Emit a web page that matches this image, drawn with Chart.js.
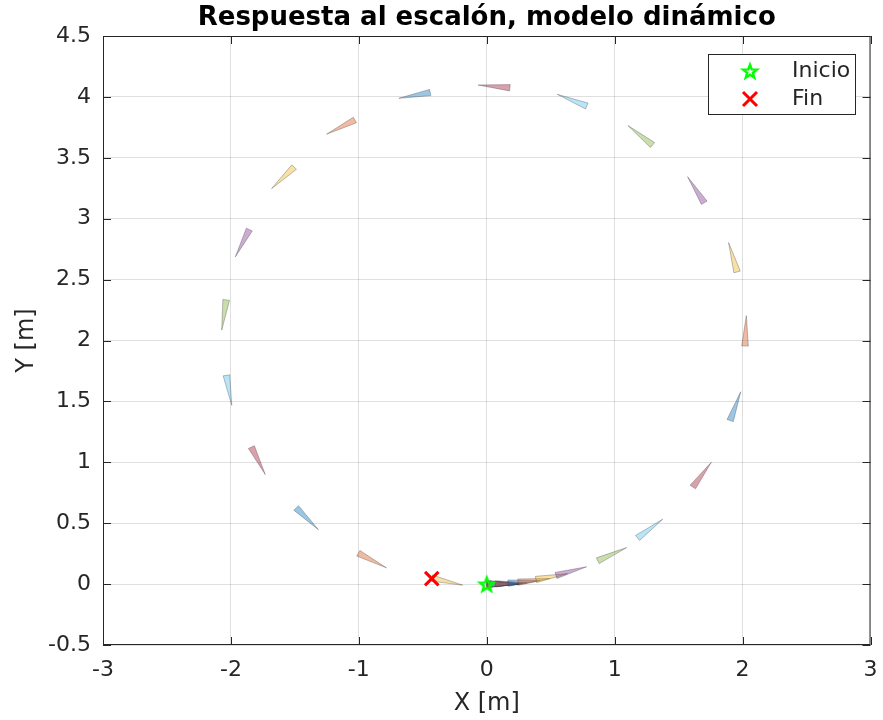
<!DOCTYPE html>
<html>
<head>
<meta charset="utf-8">
<script src="https://cdn.jsdelivr.net/npm/chart.js@4.4.1/dist/chart.umd.min.js"></script>
<style>
  html, body { margin: 0; padding: 0; background: #fff; }
</style>
</head>
<body>
<canvas id="poseChart" width="883" height="720"></canvas>
<script>
// robot poses (base centre of each triangle), heading in degrees
var poseX = [0, 0, 0.001, 0.003, 0.008, 0.027, 0.066, 0.167, 0.245, 0.385, 0.541,
             0.868, 1.179, 1.611, 1.903, 2.019, 1.957, 1.700, 1.296, 0.782, 0.181,
             -0.442, -1.031, -1.506, -1.856, -2.037, -2.035, -1.840, -1.490, -1.004, -0.432];
var poseY = [0, 0, 0, 0, 0, 0.001, 0.002, 0.008, 0.016, 0.038, 0.071,
             0.192, 0.379, 0.797, 1.343, 1.955, 2.563, 3.131, 3.605, 3.925, 4.075,
             4.036, 3.810, 3.424, 2.911, 2.333, 1.714, 1.125, 0.625, 0.253, 0.050];
var poseTheta = [0, 0, 0, 0.1, 0.3, 0.8, 1.9, 4.7, 7, 11, 16.5,
                 25.5, 38, 54.6, 70.7, 87.6, 105.4, 121.3, 140.3, 157.4, 174.8,
                 191, 207.7, 225.2, 244, 262, 279.6, 295.7, 314.3, 331.5, 346.5];
var startPoint = [0, 0];
var endPoint = [-0.43, 0.045];
var legendLabels = ['Inicio', 'Fin'];

var matlabColors = ['0,114,189', '217,83,25', '237,177,32', '126,47,142', '119,172,48', '77,190,238', '162,20,47'];
var bodyLength = 0.25, halfBase = 0.026;
var txt = '#262626';

function triangle(i) {
  var t = poseTheta[i] * Math.PI / 180;
  var c = Math.cos(t), s = Math.sin(t);
  var x = poseX[i], y = poseY[i];
  return [
    {x: x - s * halfBase, y: y + c * halfBase},
    {x: x + c * bodyLength, y: y + s * bodyLength},
    {x: x + s * halfBase, y: y - c * halfBase},
    {x: x - s * halfBase, y: y + c * halfBase}
  ];
}

// pentagram marker like matlab 'p'
var starImg = document.createElement('canvas');
starImg.width = 22; starImg.height = 22;
var sctx = starImg.getContext('2d');
sctx.beginPath();
for (var k = 0; k < 10; k++) {
  var r = k % 2 === 0 ? 7.2 : 3;
  var a = -Math.PI / 2 + k * Math.PI / 5;
  sctx.lineTo(11 + r * Math.cos(a), 11.8 + r * Math.sin(a));
}
sctx.closePath();
sctx.lineWidth = 2.4;
sctx.strokeStyle = '#00ff00';
sctx.stroke();

var datasets = [];
for (var i = 0; i < poseX.length; i++) {
  datasets.push({
    type: 'line',
    data: triangle(i),
    borderColor: 'rgba(50,50,50,0.45)',
    borderWidth: 0.7,
    backgroundColor: 'rgba(' + matlabColors[i % 7] + ',0.4)',
    fill: 'shape',
    pointRadius: 0,
    tension: 0,
    order: 100 - i
  });
}
datasets.push({
  type: 'scatter',
  label: legendLabels[0],
  data: [{x: startPoint[0], y: startPoint[1]}],
  pointStyle: starImg,
  order: -2
});
datasets.push({
  type: 'scatter',
  label: legendLabels[1],
  data: [{x: endPoint[0], y: endPoint[1]}],
  pointStyle: 'crossRot',
  pointRadius: 9.5,
  borderColor: '#ff0000',
  borderWidth: 3,
  order: -1
});

var framePlugin = {
  id: 'frame',
  afterDraw: function (chart) {
    var ctx = chart.ctx, a = chart.chartArea;
    var sx = chart.scales.x, sy = chart.scales.y;
    ctx.save();
    ctx.strokeStyle = txt;
    ctx.lineWidth = 1;
    ctx.strokeRect(a.left + 0.5, a.top + 0.5, a.right - a.left - 1, a.bottom - a.top - 1);
    ctx.beginPath();
    sx.ticks.forEach(function (t) {
      var px = Math.round(sx.getPixelForValue(t.value)) + 0.5;
      ctx.moveTo(px, a.bottom); ctx.lineTo(px, a.bottom - 8);
      ctx.moveTo(px, a.top); ctx.lineTo(px, a.top + 8);
    });
    sy.ticks.forEach(function (t) {
      var py = Math.round(sy.getPixelForValue(t.value)) + 0.5;
      ctx.moveTo(a.left, py); ctx.lineTo(a.left + 8, py);
      ctx.moveTo(a.right, py); ctx.lineTo(a.right - 8, py);
    });
    ctx.stroke();

    // title
    ctx.fillStyle = '#000';
    ctx.font = 'bold 26px "DejaVu Sans"';
    ctx.textAlign = 'center';
    ctx.textBaseline = 'middle';
    ctx.fillText('Respuesta al escalón, modelo dinámico', (a.left + a.right) / 2, 18);

    // legend box
    var bx = 708, by = 54, bw = 147, bh = 60;
    ctx.fillStyle = '#fff';
    ctx.fillRect(bx, by, bw, bh);
    ctx.lineWidth = 1;
    ctx.strokeStyle = txt;
    ctx.strokeRect(bx + 0.5, by + 0.5, bw, bh);
    ctx.drawImage(starImg, 750 - 11, 71 - 11);
    ctx.strokeStyle = '#ff0000';
    ctx.lineWidth = 3;
    ctx.beginPath();
    ctx.moveTo(743, 92); ctx.lineTo(757, 106);
    ctx.moveTo(757, 92); ctx.lineTo(743, 106);
    ctx.stroke();
    ctx.fillStyle = txt;
    ctx.font = '22px "DejaVu Sans"';
    ctx.textAlign = 'left';
    ctx.fillText(legendLabels[0], 792, 71);
    ctx.fillText(legendLabels[1], 792, 99);
    ctx.restore();
  }
};

function tickText(v) {
  return String(Math.round(v * 10) / 10);
}

var poseCtx = document.getElementById('poseChart').getContext('2d');
var poseChart = new Chart(poseCtx, {
  type: 'line',
  data: { datasets: datasets },
  plugins: [framePlugin],
  options: {
    responsive: false,
    animation: false,
    devicePixelRatio: 1,
    layout: { padding: { top: 36, right: 9, left: 0, bottom: 0 } },
    plugins: {
      legend: { display: false },
      tooltip: { enabled: false },
      title: { display: false }
    },
    scales: {
      x: {
        type: 'linear',
        min: -3, max: 3,
        ticks: { stepSize: 1, color: txt, font: { family: 'DejaVu Sans', size: 22 }, padding: 12, maxRotation: 0, callback: tickText },
        grid: { color: 'rgba(38,38,38,0.15)', drawTicks: false },
        border: { display: false },
        title: { display: true, text: 'X [m]', color: txt, font: { family: 'DejaVu Sans', size: 24 }, padding: { top: 0, bottom: 2 } },
        afterFit: function (s) { s.height = 75; s.paddingLeft = 0; s.paddingRight = 0; }
      },
      y: {
        type: 'linear',
        min: -0.5, max: 4.5,
        ticks: { stepSize: 0.5, color: txt, font: { family: 'DejaVu Sans', size: 22 }, padding: 12, callback: tickText },
        grid: { color: 'rgba(38,38,38,0.15)', drawTicks: false },
        border: { display: false },
        title: { display: true, text: 'Y [m]', color: txt, font: { family: 'DejaVu Sans', size: 24 }, padding: { top: 12, bottom: 0 } },
        afterFit: function (s) { s.width = 103; s.paddingTop = 0; s.paddingBottom = 0; }
      }
    }
  }
});
</script>
</body>
</html>
